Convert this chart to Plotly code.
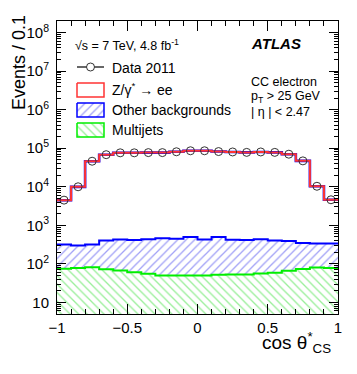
import plotly.graph_objects as go

# ---------------- data ----------------
bin_edges = [round(-1 + 0.1 * i, 1) for i in range(21)]
bin_centers = [round(-0.95 + 0.1 * i, 2) for i in range(20)]

data_2011 = [4500, 10000, 46000, 68000, 76000, 76000, 77000, 77000, 81000, 86000,
             86000, 82000, 80000, 78000, 80000, 78000, 70000, 47000, 10300, 4600]
zee = [4150, 9650, 45600, 67500, 75600, 75700, 76500, 76600, 80600, 85500,
       85600, 81500, 79600, 77600, 79500, 77600, 69600, 46700, 9950, 4250]
other_bkg = [243, 222, 236, 332, 360, 354, 380, 415, 395, 450,
             377, 448, 367, 362, 379, 345, 324, 277, 254, 257]
multijets = [75, 78, 82, 72, 67, 61, 55, 50, 50, 50,
             50, 52, 53, 53, 56, 59, 66, 73, 81, 78]

x_tick_vals = [-1, -0.5, 0, 0.5, 1]
x_tick_text = ["\u22121", "\u22120.5", "0", "0.5", "1"]
y_tick_vals = [10, 100, 1e3, 1e4, 1e5, 1e6, 1e7, 1e8]
y_tick_text = ["10", "10<sup>2</sup>", "10<sup>3</sup>", "10<sup>4</sup>",
               "10<sup>5</sup>", "10<sup>6</sup>", "10<sup>7</sup>", "10<sup>8</sup>"]

# stacked cumulative
stack_mj = multijets
stack_bkg = [a + b for a, b in zip(multijets, other_bkg)]
stack_tot = [a + b for a, b in zip(stack_bkg, zee)]


def step(v):
    return list(v) + [v[-1]]


FONT = "Liberation Sans, Arial, Helvetica, sans-serif"
BLUE_PAT = dict(shape="/", fgcolor="#4444ee", bgcolor="white", size=6, solidity=0.22)
GREEN_PAT = dict(shape="\\", fgcolor="#33dd33", bgcolor="white", size=6, solidity=0.22)
fig = go.Figure()

# multijets (green hatched)
fig.add_trace(go.Scatter(
    x=bin_edges, y=step(stack_mj), mode="lines", line=dict(shape="hv", color="#00ee00", width=2),
    fill="tozeroy", fillcolor="rgba(0,0,0,0)", fillpattern=GREEN_PAT,
    showlegend=False, hoverinfo="skip"))
# other backgrounds (blue hatched)
fig.add_trace(go.Scatter(
    x=bin_edges, y=step(stack_bkg), mode="lines", line=dict(shape="hv", color="#0000ff", width=2),
    fill="tonexty", fillcolor="rgba(0,0,0,0)", fillpattern=BLUE_PAT,
    showlegend=False, hoverinfo="skip"))
# total outline (blue under red)
fig.add_trace(go.Scatter(
    x=bin_edges, y=step(stack_tot), mode="lines", line=dict(shape="hv", color="#0000ff", width=2.6),
    showlegend=False, hoverinfo="skip"))
fig.add_trace(go.Scatter(
    x=bin_edges, y=step(stack_tot), mode="lines", line=dict(shape="hv", color="#ff3333", width=2),
    showlegend=False, hoverinfo="skip"))
# data
fig.add_trace(go.Scatter(
    x=bin_centers, y=data_2011, mode="markers",
    marker=dict(symbol="circle-open", size=8, color="#333333", line=dict(width=1)),
    showlegend=False, hoverinfo="skip"))

# dummy trace for minor-tick overlay axis
fig.add_trace(go.Scatter(x=[0], y=[10], yaxis="y2", mode="markers",
                         marker=dict(opacity=0), showlegend=False, hoverinfo="skip"))

# ---------------- manual legend (aux axes in plot-fraction coords) ----------------
# window pixel -> plot fraction (plot area spans x 57..338, y 21..314 in the window)
def px_x(p):
    return (p - 57) / 281.0


def px_y(p):
    return (314 - p) / 293.0


lx0, lx1 = px_x(77), px_x(104)
lxm = (lx0 + lx1) / 2
# data symbol
fig.add_trace(go.Scatter(x=[lx0, lx1], y=[px_y(67), px_y(67)], xaxis="x3", yaxis="y3",
                         mode="lines", line=dict(color="black", width=1.2),
                         showlegend=False, hoverinfo="skip"))
fig.add_trace(go.Scatter(x=[lxm], y=[px_y(67)], xaxis="x3", yaxis="y3", mode="markers",
                         marker=dict(symbol="circle", size=8, color="white",
                                     line=dict(color="#333333", width=1)),
                         showlegend=False, hoverinfo="skip"))


def box(y0, y1, color, pattern):
    kw = {}
    if pattern:
        kw["fillpattern"] = pattern
        kw["fillcolor"] = "rgba(0,0,0,0)"
    else:
        kw["fillcolor"] = "white"
    fig.add_trace(go.Scatter(x=[lx0, lx1, lx1, lx0, lx0],
                             y=[px_y(y0), px_y(y0), px_y(y1), px_y(y1), px_y(y0)],
                             xaxis="x3", yaxis="y3", mode="lines", fill="toself",
                             line=dict(color=color, width=1.5),
                             showlegend=False, hoverinfo="skip", **kw))


box(83, 97, "#ff3333", None)
box(103, 117, "#0000ff", BLUE_PAT)
box(123, 137, "#00ee00", GREEN_PAT)

ann = []
legend_items = [("Data 2011", 68), ("Z/\u03b3<sup>*</sup> \u2192 ee", 89),
                ("Other backgrounds", 110), ("Multijets", 130)]
for txt, yy in legend_items:
    ann.append(dict(x=px_x(110), y=px_y(yy), xref="paper", yref="paper", text=txt,
                    showarrow=False, xanchor="left", yanchor="middle",
                    font=dict(size=14, color="black", family=FONT)))

ann.append(dict(x=px_x(73), y=px_y(45), xref="paper", yref="paper",
                text="\u221as = 7 TeV, 4.8 fb<sup>-1</sup>", showarrow=False,
                xanchor="left", yanchor="middle", font=dict(size=12.5, color="black", family=FONT)))
ann.append(dict(x=px_x(249), y=px_y(43), xref="paper", yref="paper",
                text="<b><i>ATLAS</i></b>", showarrow=False,
                xanchor="left", yanchor="middle", font=dict(size=15, color="black", family=FONT)))
for txt, yy in [("CC electron", 82), ("p<sub>T</sub> > 25 GeV", 97), ("| \u03b7 | < 2.47", 112)]:
    ann.append(dict(x=px_x(249), y=px_y(yy), xref="paper", yref="paper", text=txt,
                    showarrow=False, xanchor="left", yanchor="middle",
                    font=dict(size=12.5, color="black", family=FONT)))

# axis titles
ann.append(dict(x=px_x(333), y=px_y(342), xref="paper", yref="paper",
                text="cos \u03b8<sup>*</sup><sub>CS</sub>", showarrow=False,
                xanchor="right", yanchor="middle", font=dict(size=19, color="black", family=FONT)))
ann.append(dict(x=px_x(19), y=px_y(63), xref="paper", yref="paper",
                text="Events / 0.1", textangle=-90, showarrow=False,
                xanchor="center", yanchor="middle", font=dict(size=18, color="black", family=FONT)))

# The page body has an 8px default margin, so the figure is offset by (8, 8) in the window.
fig.update_layout(
    width=341, height=358,
    margin=dict(l=49, r=11, t=13, b=52, autoexpand=False),
    paper_bgcolor="white", plot_bgcolor="white",
    font=dict(family=FONT, color="black"),
    annotations=ann,
    xaxis=dict(range=[-1, 1], tickvals=x_tick_vals, ticktext=x_tick_text, automargin=False,
               ticks="inside", ticklen=10, tickwidth=1, tickcolor="black",
               minor=dict(dtick=0.1, tick0=0, ticks="inside", ticklen=5, tickcolor="black", showgrid=False),
               showline=True, linecolor="black", linewidth=1, mirror="ticks",
               showgrid=False, zeroline=False, tickfont=dict(size=15, family=FONT)),
    yaxis=dict(type="log", range=[0.69897, 8.30103], tickvals=y_tick_vals, ticktext=y_tick_text,
               automargin=False,
               ticks="inside", ticklen=9, tickwidth=1, tickcolor="black",
               showline=True, linecolor="black", linewidth=1, mirror="ticks",
               showgrid=False, zeroline=False, tickfont=dict(size=15, family=FONT),
               ticklabelstandoff=4),
    yaxis2=dict(type="log", range=[0.69897, 8.30103], overlaying="y", anchor="x", side="left",
                automargin=False,
                dtick="D1", ticks="inside", ticklen=4, tickcolor="black", showticklabels=False,
                showline=False, mirror="ticks", showgrid=False, zeroline=False),
    xaxis3=dict(range=[0, 1], overlaying="x", anchor="y3", visible=False, automargin=False),
    yaxis3=dict(range=[0, 1], overlaying="y", anchor="x3", visible=False, automargin=False),
)

fig.write_html("out.html")
